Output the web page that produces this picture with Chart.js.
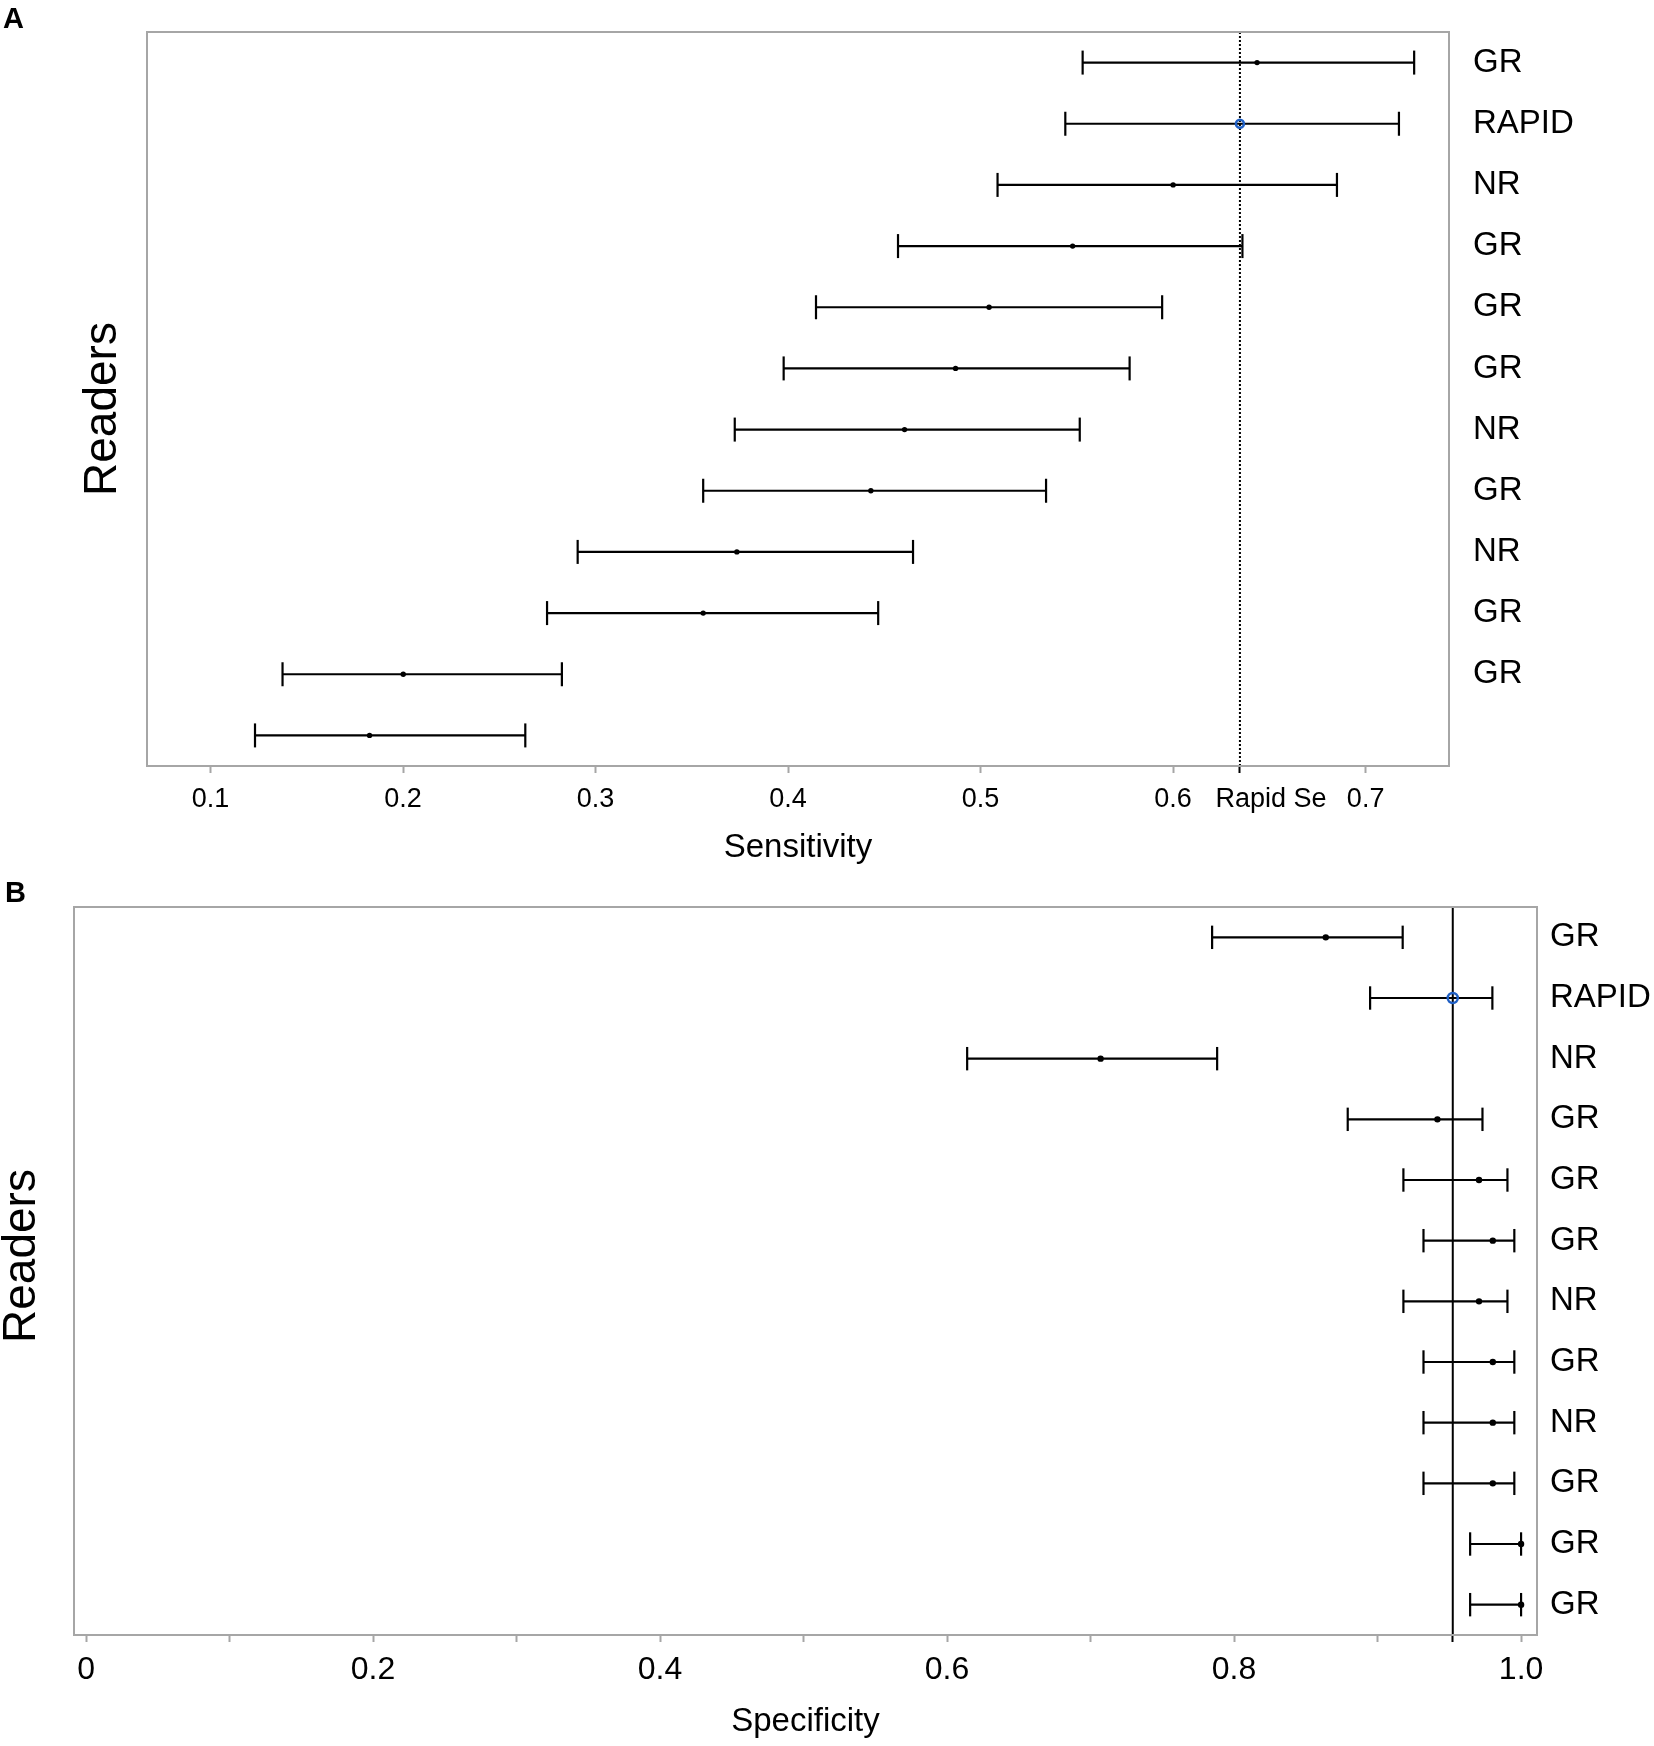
<!DOCTYPE html>
<html>
<head>
<meta charset="utf-8">
<title>Sensitivity and specificity by reader</title>
<script src="https://cdn.jsdelivr.net/npm/chart.js@4.4.1/dist/chart.umd.min.js"></script>
<style>
  html, body { margin: 0; padding: 0; background: #fff; }
  #page { position: relative; width: 1654px; height: 1746px; font-family: 'Liberation Sans', Arial, sans-serif; }
  canvas { position: absolute; left: 0; }
  #chartA { top: 0; }
  #chartB { top: 880px; }
  .panel-letter { position: absolute; font-weight: bold; font-size: 29px; line-height: 1; color: #000; }
</style>
</head>
<body>
<div id="page">
  <canvas id="chartA" width="1654" height="880"></canvas>
  <canvas id="chartB" width="1654" height="866"></canvas>
  <div class="panel-letter" style="left:3px; top:4px;">A</div>
  <div class="panel-letter" style="left:5px; top:878px;">B</div>
</div>
<script>
// --- date panou A (sensibilitate) ---
const sensLabels = ['GR', 'RAPID', 'NR', 'GR', 'GR', 'GR', 'NR', 'GR', 'NR', 'GR', 'GR', ''];
const sensEst  = [0.6436, 0.6347, 0.6000, 0.5478, 0.5044, 0.4870, 0.4605, 0.4430, 0.3734, 0.3559, 0.2001, 0.1826];
const sensLow  = [0.5530, 0.5440, 0.5088, 0.4571, 0.4145, 0.3977, 0.3723, 0.3559, 0.2907, 0.2748, 0.1374, 0.1231];
const sensHigh = [0.7252, 0.7173, 0.6851, 0.6360, 0.5943, 0.5774, 0.5515, 0.5340, 0.4649, 0.4468, 0.2825, 0.2635];
const sensTicks = [0.1, 0.2, 0.3, 0.4, 0.5, 0.6, 0.7];
const sensTickLabels = ['0.1', '0.2', '0.3', '0.4', '0.5', '0.6', '0.7'];
const sensRefLabel = 'Rapid Se';

// --- date panou B (specificitate) ---
const specLabels = ['GR', 'RAPID', 'NR', 'GR', 'GR', 'GR', 'NR', 'GR', 'NR', 'GR', 'GR', 'GR'];
const specEst  = [0.8639, 0.9524, 0.7070, 0.9417, 0.9707, 0.9803, 0.9707, 0.9803, 0.9803, 0.9803, 1.0000, 1.0000];
const specLow  = [0.7847, 0.8948, 0.6140, 0.8792, 0.9180, 0.9320, 0.9180, 0.9320, 0.9320, 0.9320, 0.9645, 0.9645];
const specHigh = [0.9175, 0.9800, 0.7882, 0.9731, 0.9905, 0.9953, 0.9905, 0.9953, 0.9953, 0.9953, 1.0000, 1.0000];
const specTicks = [0, 0.1, 0.2, 0.3, 0.4, 0.5, 0.6, 0.7, 0.8, 0.9, 1.0];
const specTickLabels = ['0', '', '0.2', '', '0.4', '', '0.6', '', '0.8', '', '1.0'];

const yTitle = 'Readers';

const FONT = "'Liberation Sans', Arial, sans-serif";
const GRAY = '#a6a6a6';
const BLUE = '#1f5fc4';

function sameValue(a, b) {
    return Math.abs(a - b) < 1e-6;
}

// Cauta eticheta unui tick dupa valoare
function tickLabel(values, labels, v) {
    const i = values.findIndex(t => sameValue(t, v));
    return i >= 0 ? labels[i] : '';
}

// Chenarul gri din jurul zonei de grafic
const frameBox = {
    id: 'frameBox',
    afterDraw(chart) {
        const { ctx, chartArea: a } = chart;
        ctx.save();
        ctx.strokeStyle = GRAY;
        ctx.lineWidth = 2;
        ctx.strokeRect(a.left, a.top, a.right - a.left, a.bottom - a.top);
        ctx.restore();
    }
};

// Eticheta liniei de referinta, putin decalata spre dreapta
const refLabel = {
    id: 'refLabel',
    afterDraw(chart, args, opts) {
        if (!opts || !opts.text) return;
        const xs = chart.scales.x;
        const { ctx } = chart;
        ctx.save();
        ctx.font = opts.size + 'px ' + FONT;
        ctx.fillStyle = '#000';
        ctx.textAlign = 'center';
        ctx.textBaseline = 'middle';
        const x = xs.getPixelForValue(opts.value) + opts.dx;
        const y = xs.top + 7 + opts.pad + opts.size * 1.2 / 2;
        ctx.fillText(opts.text, x, y);
        ctx.restore();
    }
};

// Titlul axei verticale, rotit, cu un mic decalaj fata de centru
const sideTitle = {
    id: 'sideTitle',
    afterDraw(chart, args, opts) {
        if (!opts || !opts.text) return;
        const a = chart.chartArea;
        const { ctx } = chart;
        ctx.save();
        ctx.translate(opts.x, (a.top + a.bottom) / 2 + opts.dy);
        ctx.rotate(-Math.PI / 2);
        ctx.font = opts.size + 'px ' + FONT;
        ctx.fillStyle = '#000';
        ctx.textAlign = 'center';
        ctx.textBaseline = 'middle';
        ctx.fillText(opts.text, 0, 0);
        ctx.restore();
    }
};

// Axele verticale nu trebuie sa impinga zona graficului
function fixWidth(width) {
    return s => {
        s.width = width;
        s.paddingTop = 0;
        s.paddingBottom = 0;
    };
}

function buildForest(canvasId, cfg) {
    const rows = cfg.labels.map((_, i) => i + 1);
    const rapidIdx = cfg.labels.indexOf('RAPID');
    const ref = cfg.est[rapidIdx];

    const whiskers = rows.map((r, i) => ({
        type: 'line',
        data: [{ x: cfg.low[i], y: r }, { x: cfg.high[i], y: r }],
        borderColor: '#000',
        borderWidth: 2.2,
        pointStyle: 'line',
        pointRotation: 90,
        pointRadius: cfg.capRadius,
        pointBorderColor: '#000',
        pointBorderWidth: 2.2,
        order: 3
    }));

    const refLine = {
        type: 'line',
        data: [{ x: ref, y: 0.5 }, { x: ref, y: rows.length + 0.5 }],
        borderColor: '#000',
        borderWidth: cfg.refWidth,
        borderDash: cfg.refDash,
        pointRadius: 0,
        order: 2
    };

    const estimates = {
        type: 'scatter',
        data: rows.filter((r, i) => i !== rapidIdx).map(r => ({ x: cfg.est[r - 1], y: r })),
        backgroundColor: '#000',
        borderWidth: 0,
        pointRadius: cfg.dotRadius,
        order: 1
    };

    const rapidPoint = {
        type: 'scatter',
        data: [{ x: ref, y: rapidIdx + 1 }],
        backgroundColor: 'rgba(0,0,0,0)',
        borderColor: BLUE,
        borderWidth: 2.5,
        pointRadius: cfg.rapidRadius,
        order: 0
    };

    const tickValues = cfg.tickValues.concat([ref]).sort((a, b) => a - b);

    return new Chart(document.getElementById(canvasId), {
        type: 'scatter',
        data: { datasets: [...whiskers, refLine, estimates, rapidPoint] },
        plugins: [frameBox, refLabel, sideTitle],
        options: {
            responsive: false,
            animation: false,
            devicePixelRatio: 1,
            events: [],
            layout: { padding: { left: 0, right: 0, top: cfg.padTop, bottom: 0 } },
            plugins: {
                legend: { display: false },
                tooltip: { enabled: false },
                refLabel: cfg.refText ? { text: cfg.refText, value: ref, dx: 31, size: cfg.tickSize, pad: cfg.tickPad } : {},
                sideTitle: { text: yTitle, size: 46, x: cfg.yTitleX, dy: cfg.yTitleDy }
            },
            scales: {
                x: {
                    type: 'linear',
                    min: cfg.xMin,
                    max: cfg.xMax,
                    afterBuildTicks: s => { s.ticks = tickValues.map(v => ({ value: v })); },
                    afterFit: s => { s.height = cfg.xHeight; },
                    ticks: {
                        autoSkip: false,
                        maxRotation: 0,
                        padding: cfg.tickPad,
                        color: '#000',
                        font: { family: FONT, size: cfg.tickSize },
                        callback: v => tickLabel(cfg.tickValues, cfg.tickLabels, v)
                    },
                    grid: {
                        drawOnChartArea: false,
                        drawTicks: true,
                        tickLength: 7,
                        tickWidth: 2,
                        color: GRAY,
                        tickColor: c => (c.tick && sameValue(c.tick.value, ref)) ? '#000' : GRAY
                    },
                    border: { display: false },
                    title: {
                        display: true,
                        text: cfg.xTitle,
                        color: '#000',
                        font: { family: FONT, size: 33, lineHeight: 1 },
                        padding: { top: 0, bottom: cfg.xTitlePad }
                    }
                },
                y: {
                    type: 'linear',
                    position: 'left',
                    min: 0.5,
                    max: rows.length + 0.5,
                    reverse: true,
                    afterFit: fixWidth(cfg.yWidth),
                    ticks: { display: false },
                    grid: { display: false, drawTicks: false },
                    border: { display: false }
                },
                y2: {
                    type: 'linear',
                    position: 'right',
                    min: 0.5,
                    max: rows.length + 0.5,
                    reverse: true,
                    afterBuildTicks: s => { s.ticks = rows.map(v => ({ value: v })); },
                    afterFit: fixWidth(cfg.y2Width),
                    ticks: {
                        autoSkip: false,
                        padding: cfg.labelPad,
                        color: '#000',
                        font: { family: FONT, size: 33 },
                        callback: v => cfg.labels[Math.round(v) - 1] || ''
                    },
                    grid: { display: false, drawTicks: false },
                    border: { display: false }
                }
            }
        }
    });
}

// --- INITIALIZARE ---
document.addEventListener('DOMContentLoaded', () => {
    buildForest('chartA', {
        labels: sensLabels, est: sensEst, low: sensLow, high: sensHigh,
        tickValues: sensTicks, tickLabels: sensTickLabels, refText: sensRefLabel,
        xTitle: 'Sensitivity', xMin: 0.067, xMax: 0.7433,
        padTop: 32, xHeight: 114, yWidth: 147, y2Width: 205,
        tickSize: 27, tickPad: 10, xTitlePad: 16, labelPad: 24,
        yTitleX: 103, yTitleDy: 10,
        capRadius: 12, dotRadius: 2.7, rapidRadius: 4,
        refWidth: 2, refDash: [2, 2]
    });

    buildForest('chartB', {
        labels: specLabels, est: specEst, low: specLow, high: specHigh,
        tickValues: specTicks, tickLabels: specTickLabels, refText: '',
        xTitle: 'Specificity', xMin: -0.0084, xMax: 1.0111,
        padTop: 27, xHeight: 111, yWidth: 74, y2Width: 117,
        tickSize: 32, tickPad: 9, xTitlePad: 8, labelPad: 13,
        yTitleX: 22, yTitleDy: -15,
        capRadius: 11.7, dotRadius: 3.2, rapidRadius: 5,
        refWidth: 2, refDash: []
    });
});
</script>
</body>
</html>
